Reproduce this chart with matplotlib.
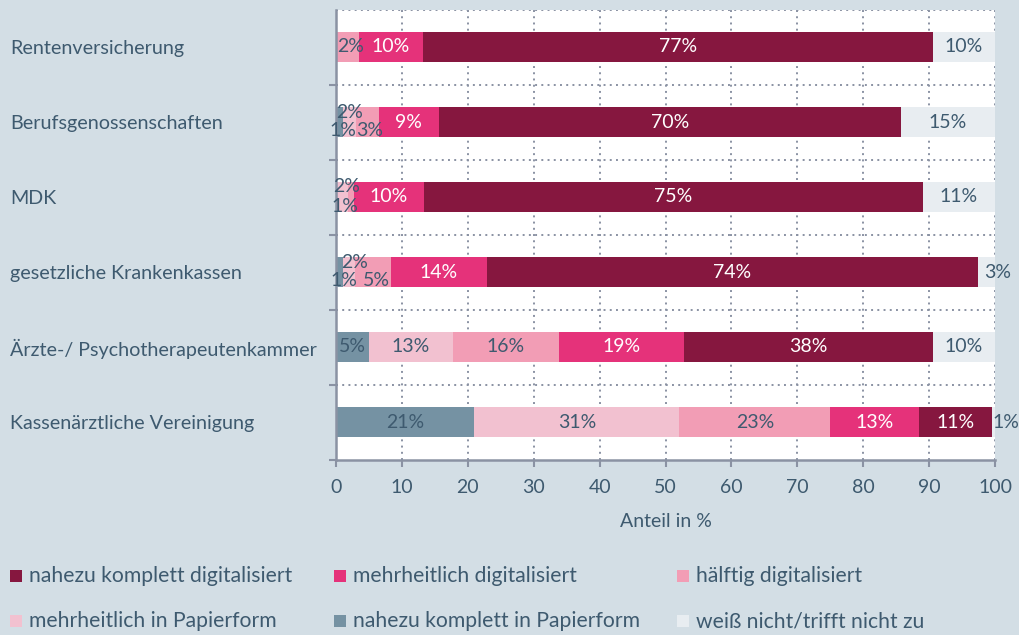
import matplotlib
matplotlib.use("Agg")
import matplotlib.pyplot as plt
from matplotlib.patches import Rectangle
from matplotlib.ticker import FixedLocator

plt.rcParams['font.family'] = ['Lato', 'DejaVu Sans']

categories = ["Rentenversicherung", "Berufsgenossenschaften", "MDK",
              "gesetzliche Krankenkassen", "Ärzte-/ Psychotherapeutenkammer",
              "Kassenärztliche Vereinigung"]

# stacking order (left to right)
series_names = ["nahezu komplett in Papierform", "mehrheitlich in Papierform",
                "hälftig digitalisiert", "mehrheitlich digitalisiert",
                "nahezu komplett digitalisiert", "weiß nicht/trifft nicht zu"]

papier_komplett = [0.0, 1.0, 0.0, 1.0, 5.0, 21.0]
papier_mehrheit = [0.0, 2.0, 1.8, 1.9, 12.7, 31.1]
haelftig = [3.5, 3.5, 1.0, 5.4, 16.1, 22.9]
digital_mehrheit = [9.7, 9.1, 10.5, 14.6, 19.0, 13.5]
digital_komplett = [77.4, 70.1, 75.7, 74.5, 37.8, 11.1]
weiss_nicht = [9.4, 14.3, 11.0, 2.6, 9.4, 0.5]

labels_papier_komplett = ["", "1%", "", "1%", "5%", "21%"]
labels_papier_mehrheit = ["", "2%", "2%", "2%", "13%", "31%"]
labels_haelftig = ["2%", "3%", "1%", "5%", "16%", "23%"]
labels_digital_mehrheit = ["10%", "9%", "10%", "14%", "19%", "13%"]
labels_digital_komplett = ["77%", "70%", "75%", "74%", "38%", "11%"]
labels_weiss_nicht = ["10%", "15%", "11%", "3%", "10%", "1%"]

legend_order = ["nahezu komplett digitalisiert", "mehrheitlich digitalisiert",
                "hälftig digitalisiert", "mehrheitlich in Papierform",
                "nahezu komplett in Papierform", "weiß nicht/trifft nicht zu"]

values = [papier_komplett, papier_mehrheit, haelftig, digital_mehrheit,
          digital_komplett, weiss_nicht]
labels = [labels_papier_komplett, labels_papier_mehrheit, labels_haelftig,
          labels_digital_mehrheit, labels_digital_komplett, labels_weiss_nicht]

colors = ["#7592a3", "#f2c1d0", "#f29db5", "#e5327a", "#86173f", "#e8edf1"]
label_colors = ["#3e5a6f", "#3e5a6f", "#3e5a6f", "white", "white", "#3e5a6f"]
color_map = dict(zip(series_names, colors))

BG = "#d3dee5"
TXT = "#3e5a6f"
GRID = "#8a92a3"

# label offsets (pixels: dx right, dy down) keyed by (row, series index)
offsets = {
    (0, 2): (3, 0),
    (1, 0): (4, 9), (1, 1): (0, -10), (1, 2): (2, 9),
    (2, 1): (5, -10), (2, 2): (-6, 9),
    (3, 0): (5, 9), (3, 1): (6, -10), (3, 2): (4, 9),
    (3, 5): (11, 0),
    (5, 5): (12, 0),
}

fig = plt.figure(figsize=(10.2, 6.35), dpi=100, facecolor=BG)
ax = fig.add_axes([336 / 1020, 1 - 459.5 / 635, 659 / 1020, 450 / 635])
ax.set_facecolor("white")

y = list(range(len(categories)))
left = [0.0] * len(categories)
for si, (name, vals) in enumerate(zip(series_names, values)):
    ax.barh(y, vals, left=left, height=0.4, color=colors[si], edgecolor="none",
            label=name, zorder=3)
    for ri, v in enumerate(vals):
        txt = labels[si][ri]
        if txt:
            dx, dy = offsets.get((ri, si), (0, 0))
            ax.annotate(txt, (left[ri] + v / 2, ri), xytext=(dx * 0.72, -dy * 0.72),
                        textcoords="offset points", ha="center", va="center",
                        fontsize=14, color=label_colors[si], zorder=5)
    left = [l + v for l, v in zip(left, vals)]

ax.set_xlim(0, 100)
ax.set_ylim(len(categories) - 0.5, -0.5)

ax.set_xticks(range(0, 101, 10))
ax.set_yticks(y)
ax.set_yticklabels(categories, ha="left")
ax.yaxis.set_minor_locator(FixedLocator([i + 0.5 for i in range(len(categories))]))
ax.tick_params(axis="y", which="major", length=0, pad=(336 - 10) * 0.72,
               labelsize=14.2, labelcolor=TXT)
ax.tick_params(axis="y", which="minor", length=5, width=1.5, color=GRID)
ax.tick_params(axis="x", which="major", length=5, width=1.5, color=GRID,
               labelsize=14, labelcolor=TXT, pad=9)

# dotted grid
for xv in range(10, 101, 10):
    ax.axvline(xv, color=GRID, linestyle=(0, (1, 2.2)), linewidth=1.4, zorder=1)
for yv in [i - 0.5 for i in range(len(categories))]:
    ax.axhline(yv, color=GRID, linestyle=(0, (1, 2.2)), linewidth=1.4, zorder=1)

for s in ["top", "right"]:
    ax.spines[s].set_visible(False)
for s in ["left", "bottom"]:
    ax.spines[s].set_color(GRID)
    ax.spines[s].set_linewidth(1.8)
    ax.spines[s].set_zorder(4)

ax.set_xlabel("Anteil in %", fontsize=14, color=TXT, labelpad=12)

# legend (two rows of three)
col_x = [10, 334, 677]
row_y = [576, 621]
for i, name in enumerate(legend_order):
    cx = col_x[i % 3]
    cy = row_y[i // 3]
    fig.add_artist(Rectangle((cx / 1020, 1 - (cy + 6) / 635), 12 / 1020, 12 / 635,
                             transform=fig.transFigure, facecolor=color_map[name],
                             edgecolor="none"))
    fig.text((cx + 19) / 1020, 1 - cy / 635, name, ha="left", va="center",
             fontsize=15.2, color=TXT)

fig.savefig("out.png", dpi=100, facecolor=BG)
